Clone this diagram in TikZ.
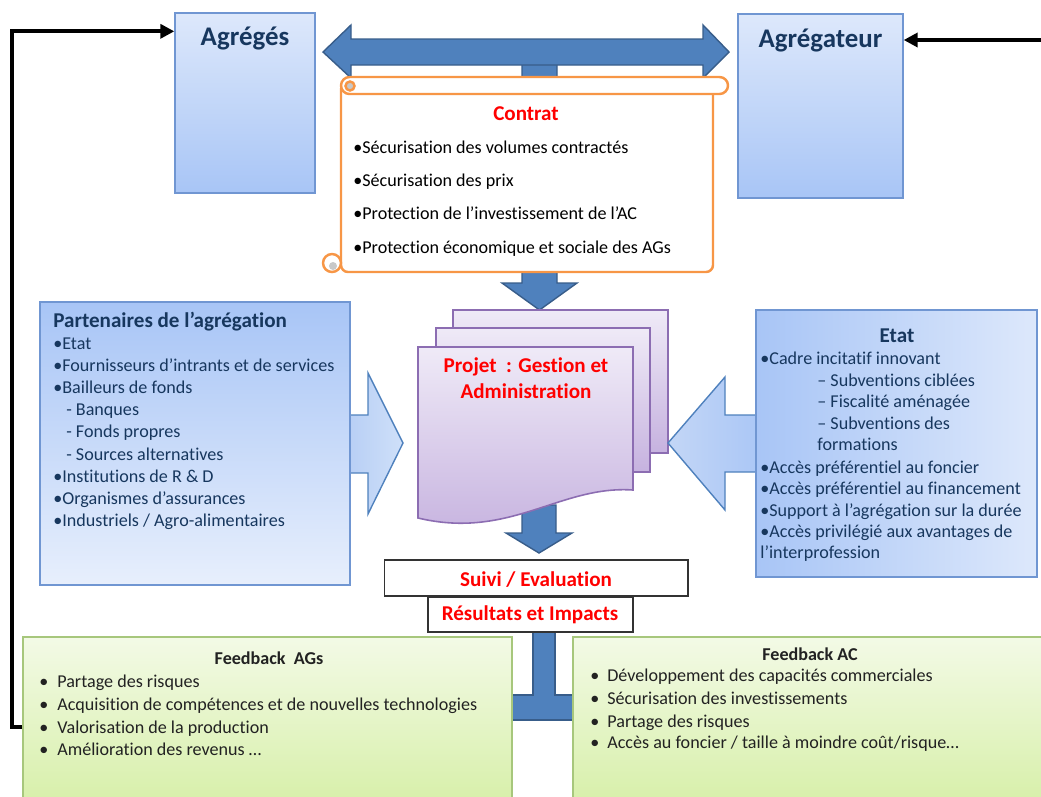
\documentclass[tikz,border=0pt]{standalone}
\usepackage{fontspec}
\setmainfont{Carlito}[Ligatures=NoCommon]
\usetikzlibrary{arrows.meta,positioning}

\definecolor{navy}{HTML}{17375E}
\definecolor{boxline}{HTML}{7096D2}
\definecolor{blueA}{HTML}{DDE8FB}
\definecolor{blueB}{HTML}{A8C5F6}
\definecolor{arrowblue}{HTML}{4F81BD}
\definecolor{arrowline}{HTML}{385D8A}
\definecolor{arrA}{HTML}{B4CCF4}
\definecolor{arrB}{HTML}{CFE0F9}
\definecolor{docA}{HTML}{EFEAF7}
\definecolor{docB}{HTML}{C6B2DF}
\definecolor{docline}{HTML}{8C6DB2}
\definecolor{greenA}{HTML}{F3FAE6}
\definecolor{greenB}{HTML}{D6EFA7}
\definecolor{greenline}{HTML}{A7C77C}
\definecolor{scrollorange}{HTML}{F79646}
\definecolor{curlgray}{HTML}{C8C8C8}
\definecolor{darktxt}{HTML}{222222}

\begin{document}
\begin{tikzpicture}[x=0.02cm, y=-0.02cm,
    txt/.style={inner sep=0pt, text=darktxt, font=\fontsize{10.3}{12.5}\selectfont},
    navytxt/.style={txt, text=navy},
    redtitle/.style={inner sep=0pt, text=red, font=\bfseries\fontsize{12}{14}\selectfont},
    bigtitle/.style={inner sep=0pt, text=navy, font=\bfseries\fontsize{15.3}{18}\selectfont},
    boxtitle/.style={inner sep=0pt, text=navy, font=\bfseries\fontsize{12}{14}\selectfont},
    fbtitle/.style={inner sep=0pt, text=darktxt, font=\bfseries\fontsize{10.3}{12.5}\selectfont},
    bluebox/.style={draw=boxline, line width=0.8pt, inner sep=0pt, top color=blueA, bottom color=blueB},
    greenbox/.style={draw=greenline, line width=0.8pt, inner sep=0pt, top color=greenA, bottom color=greenB},
    labelbox/.style={draw=black!80, line width=0.6pt, inner sep=0pt, fill=white},
    blockarrow/.style={fill=arrowblue, draw=arrowline, line width=0.8pt},
    lightarrow/.style={draw=arrowblue, line width=0.8pt},
    doc/.style={draw=docline, line width=0.9pt, top color=docA, bottom color=docB},
    scroll/.style={draw=scrollorange, line width=1.4pt, fill=white},
    feedline/.style={draw=black, line width=2.3pt, -{Triangle[length=0.28cm,width=0.28cm]}}
]
\useasboundingbox (0,0) rectangle (1041,796);
\clip (0,0) rectangle (1041,796);

% contract arrows
\path[blockarrow] (522,60) -- (557,60) -- (557,283) -- (577,283) -- (539.5,310) -- (502,283) -- (522,283) -- cycle;
\path[blockarrow] (323,52) -- (351,25) -- (351,39) -- (703,39) -- (703,25) -- (729,52) -- (703,78) -- (703,65) -- (351,65) -- (351,78) -- cycle;

% the two parties
\node[bluebox, minimum width=2.8cm, minimum height=3.6cm] (agg) at (245,103) {};
\node[bigtitle, anchor=base] (aggt) at (245,45) {Agrégés};
\node[bluebox, minimum width=3.3cm, minimum height=3.68cm] (agr) at (820.5,106) {};
\node[bigtitle, anchor=base] (agrt) at (820.5,47) {Agrégateur};

% contract scroll
\path[scroll, rounded corners=0.14cm] (341,88) -- (341,272) -- (713,272) -- (713,88);
\path[scroll] (332,263) circle (0.18cm);
\fill[curlgray] (333,266) circle (0.08cm);
\path[scroll, rounded corners=0.17cm] (341,77) rectangle (728,94);
\path[scroll, fill=curlgray] (350,86) circle (0.09cm);

\node[redtitle, anchor=base] (ctrt) at (526,120) {Contrat};
\foreach \y/\t [count=\i] in {153/{•Sécurisation des volumes contractés},
    186/{•Sécurisation des prix},
    219/{•Protection de l’investissement de l’AC},
    253/{•Protection économique et sociale des AGs}}
  \node[txt, text=black, anchor=base west] (ctr\i) at (353,\y) {\t};

% partners
\path[lightarrow, left color=arrA, right color=arrB] (340,415) -- (368,415) -- (368,373) -- (403,443) -- (368,514) -- (368,473) -- (340,473) -- cycle;
\node[bluebox, top color=blueB, bottom color=blueA!70!white, minimum width=6.2cm, minimum height=5.66cm] (part) at (195,443.5) {};
\node[boxtitle, anchor=base west] (partt) at (53,327) {Partenaires de l’agrégation};
\foreach \x/\y/\t [count=\i] in {53/349/{•Etat},
    53/371/{•Fournisseurs d’intrants et de services},
    53/393/{•Bailleurs de fonds},
    66/415/{- Banques},
    66/437/{- Fonds propres},
    66/460/{- Sources alternatives},
    53/482/{•Institutions de R \& D},
    53/504/{•Organismes d’assurances},
    53/526/{•Industriels / Agro-alimentaires}}
  \node[navytxt, anchor=base west] (part\i) at (\x,\y) {\t};

% project documents
\path[blockarrow] (522,505) -- (556,505) -- (556,533) -- (572,533) -- (539,553) -- (506,533) -- (522,533) -- cycle;
\path[doc] (453,310) rectangle (668,453);
\path[doc] (436,328) rectangle (650,472);
\path[doc] (418,347) -- (633,347) -- (633,490) .. controls (560,485) and (510,540) .. (418,518) -- cycle;
\node[redtitle, anchor=base] (proj1) at (526,372) {Projet~ : Gestion et};
\node[redtitle, anchor=base] (proj2) at (526,398) {Administration};

% state
\path[lightarrow, left color=arrA!80!white, right color=blueB] (770,415) -- (725,415) -- (725,377) -- (668,443) -- (725,510) -- (725,472) -- (770,472) -- cycle;
\node[bluebox, left color=blueB, right color=blueA, minimum width=5.62cm, minimum height=5.34cm] (etat) at (896.5,443.5) {};
\node[boxtitle, anchor=base] (etatt) at (897,342) {Etat};
\foreach \x/\y/\t [count=\i] in {760/364/{•Cadre incitatif innovant},
    817/386/{– Subventions ciblées},
    817/407/{– Fiscalité aménagée},
    817/429/{– Subventions des},
    817/450/{formations},
    760/473/{•Accès préférentiel au foncier},
    760/494/{•Accès préférentiel au financement},
    760/516/{•Support à l’agrégation sur la durée},
    760/537/{•Accès privilégié aux avantages de},
    760/558/{l’interprofession}}
  \node[navytxt, anchor=base west] (etat\i) at (\x,\y) {\t};

% evaluation
\path[blockarrow] (533,625) -- (555,625) -- (555,695) -- (620,695) -- (620,720) -- (470,720) -- (470,695) -- (533,695) -- cycle;
\node[labelbox, minimum width=6.08cm, minimum height=0.72cm] (suivi) at (536,578) {};
\node[redtitle, anchor=base] (suivit) at (536,586) {Suivi / Evaluation};
\node[labelbox, minimum width=4.1cm, minimum height=0.7cm] (result) at (530.5,614.5) {};
\node[redtitle, anchor=base] (resultt) at (530,620) {Résultats et Impacts};

% feedback
\node[greenbox, minimum width=9.78cm, minimum height=3.46cm] (fbag) at (267.5,723.5) {};
\node[fbtitle, anchor=base] (fbagt) at (269,664) {Feedback~ AGs};
\foreach \y/\t [count=\i] in {687/{Partage des risques},
    710/{Acquisition de compétences et de nouvelles technologies},
    733/{Valorisation de la production},
    755/{Amélioration des revenus …}}
{
  \node[txt, anchor=base west] (agb\i) at (39,\y) {•};
  \node[txt, anchor=base west] (agi\i) at (57,\y) {\t};
}
\node[greenbox, minimum width=9.54cm, minimum height=3.46cm] (fbac) at (811.5,723.5) {};
\node[fbtitle, anchor=base] (fbact) at (810,660) {Feedback AC};
\foreach \y/\t [count=\i] in {681/{Développement des capacités commerciales},
    704/{Sécurisation des investissements},
    727/{Partage des risques},
    748/{Accès au foncier / taille à moindre coût/risque…}}
{
  \node[txt, anchor=base west] (acb\i) at (590,\y) {•};
  \node[txt, anchor=base west] (aci\i) at (607,\y) {\t};
}

% feedback loops
\coordinate (loopL) at (12,727);
\coordinate (loopR) at (1041,40);
\draw[feedline] (fbag.west |- loopL) -- (loopL) |- ([yshift=-0.38cm]agg.north west);
\draw[feedline] (loopR) -- (loopR -| agr.east);
\end{tikzpicture}
\end{document}
